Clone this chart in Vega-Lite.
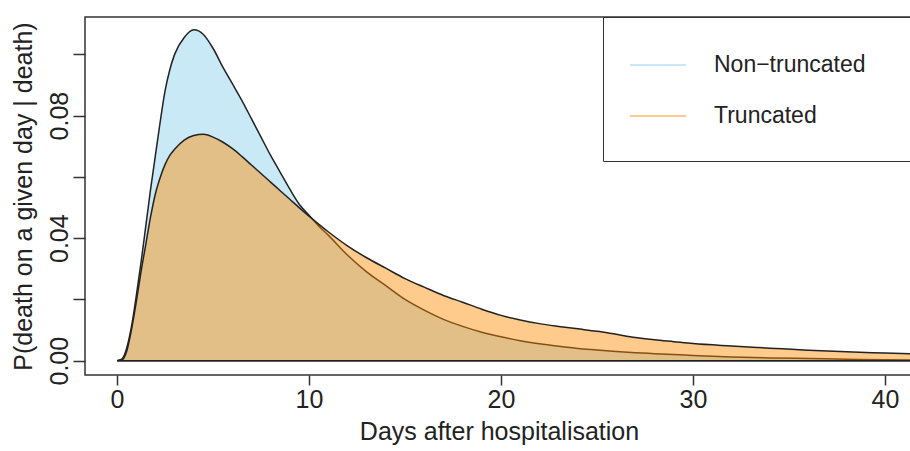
{
  "$schema": "https://vega.github.io/schema/vega-lite/v6.json",
  "width": 828,
  "height": 358,
  "autosize": {"type": "none"},
  "padding": {"left": 85, "top": 17, "right": -3, "bottom": 76},
  "background": "white",
  "config": {
    "view": {"stroke": "#333", "strokeWidth": 1.5},
    "font": "Liberation Sans",
    "axis": {"grid": false, "labelFont": "Liberation Sans", "titleFont": "Liberation Sans", "labelColor": "#222", "titleColor": "#222", "titleFontWeight": "normal", "domain": false, "tickColor": "#333", "tickWidth": 1.5}
  },
  "datasets": {
    "curves": [
      {"day": 0, "p": 0, "series": "Non−truncated"},
      {"day": 0.25, "p": 0.0005, "series": "Non−truncated"},
      {"day": 0.5, "p": 0.004, "series": "Non−truncated"},
      {"day": 0.75, "p": 0.011, "series": "Non−truncated"},
      {"day": 1.0, "p": 0.021, "series": "Non−truncated"},
      {"day": 1.25, "p": 0.032, "series": "Non−truncated"},
      {"day": 1.5, "p": 0.044, "series": "Non−truncated"},
      {"day": 1.75, "p": 0.056, "series": "Non−truncated"},
      {"day": 2.0, "p": 0.067, "series": "Non−truncated"},
      {"day": 2.25, "p": 0.078, "series": "Non−truncated"},
      {"day": 2.5, "p": 0.088, "series": "Non−truncated"},
      {"day": 2.75, "p": 0.095, "series": "Non−truncated"},
      {"day": 3.0, "p": 0.1, "series": "Non−truncated"},
      {"day": 3.5, "p": 0.1055, "series": "Non−truncated"},
      {"day": 4.0, "p": 0.108, "series": "Non−truncated"},
      {"day": 4.5, "p": 0.1065, "series": "Non−truncated"},
      {"day": 5.0, "p": 0.102, "series": "Non−truncated"},
      {"day": 5.5, "p": 0.096, "series": "Non−truncated"},
      {"day": 6.0, "p": 0.0905, "series": "Non−truncated"},
      {"day": 6.5, "p": 0.085, "series": "Non−truncated"},
      {"day": 7.0, "p": 0.079, "series": "Non−truncated"},
      {"day": 7.5, "p": 0.073, "series": "Non−truncated"},
      {"day": 8.0, "p": 0.067, "series": "Non−truncated"},
      {"day": 8.5, "p": 0.0615, "series": "Non−truncated"},
      {"day": 9.0, "p": 0.056, "series": "Non−truncated"},
      {"day": 9.5, "p": 0.051, "series": "Non−truncated"},
      {"day": 10.0, "p": 0.0475, "series": "Non−truncated"},
      {"day": 10.5, "p": 0.044, "series": "Non−truncated"},
      {"day": 11.0, "p": 0.041, "series": "Non−truncated"},
      {"day": 12.0, "p": 0.0345, "series": "Non−truncated"},
      {"day": 13.0, "p": 0.029, "series": "Non−truncated"},
      {"day": 14.0, "p": 0.0245, "series": "Non−truncated"},
      {"day": 15.0, "p": 0.02, "series": "Non−truncated"},
      {"day": 16.0, "p": 0.0165, "series": "Non−truncated"},
      {"day": 17.0, "p": 0.0135, "series": "Non−truncated"},
      {"day": 18.0, "p": 0.0112, "series": "Non−truncated"},
      {"day": 19.0, "p": 0.0093, "series": "Non−truncated"},
      {"day": 20.0, "p": 0.0078, "series": "Non−truncated"},
      {"day": 21.0, "p": 0.0065, "series": "Non−truncated"},
      {"day": 22.0, "p": 0.0055, "series": "Non−truncated"},
      {"day": 23.0, "p": 0.0047, "series": "Non−truncated"},
      {"day": 24.0, "p": 0.004, "series": "Non−truncated"},
      {"day": 25.0, "p": 0.0035, "series": "Non−truncated"},
      {"day": 26.0, "p": 0.003, "series": "Non−truncated"},
      {"day": 27.0, "p": 0.0026, "series": "Non−truncated"},
      {"day": 28.0, "p": 0.0023, "series": "Non−truncated"},
      {"day": 29.0, "p": 0.002, "series": "Non−truncated"},
      {"day": 30.0, "p": 0.0017, "series": "Non−truncated"},
      {"day": 32.0, "p": 0.0012, "series": "Non−truncated"},
      {"day": 34.0, "p": 0.0009, "series": "Non−truncated"},
      {"day": 36.0, "p": 0.0007, "series": "Non−truncated"},
      {"day": 38.0, "p": 0.0005, "series": "Non−truncated"},
      {"day": 40.0, "p": 0.0003, "series": "Non−truncated"},
      {"day": 42.0, "p": 0.0002, "series": "Non−truncated"},
      {"day": 0, "p": 0, "series": "Truncated"},
      {"day": 0.25, "p": 0.0002, "series": "Truncated"},
      {"day": 0.5, "p": 0.003, "series": "Truncated"},
      {"day": 0.75, "p": 0.01, "series": "Truncated"},
      {"day": 1.0, "p": 0.019, "series": "Truncated"},
      {"day": 1.25, "p": 0.029, "series": "Truncated"},
      {"day": 1.5, "p": 0.038, "series": "Truncated"},
      {"day": 1.75, "p": 0.047, "series": "Truncated"},
      {"day": 2.0, "p": 0.0545, "series": "Truncated"},
      {"day": 2.25, "p": 0.0598, "series": "Truncated"},
      {"day": 2.5, "p": 0.064, "series": "Truncated"},
      {"day": 2.75, "p": 0.067, "series": "Truncated"},
      {"day": 3.0, "p": 0.069, "series": "Truncated"},
      {"day": 3.5, "p": 0.072, "series": "Truncated"},
      {"day": 4.0, "p": 0.0735, "series": "Truncated"},
      {"day": 4.5, "p": 0.0739, "series": "Truncated"},
      {"day": 5.0, "p": 0.073, "series": "Truncated"},
      {"day": 5.5, "p": 0.0714, "series": "Truncated"},
      {"day": 6.0, "p": 0.0693, "series": "Truncated"},
      {"day": 6.5, "p": 0.0667, "series": "Truncated"},
      {"day": 7.0, "p": 0.0639, "series": "Truncated"},
      {"day": 7.5, "p": 0.0611, "series": "Truncated"},
      {"day": 8.0, "p": 0.0583, "series": "Truncated"},
      {"day": 8.5, "p": 0.0555, "series": "Truncated"},
      {"day": 9.0, "p": 0.0527, "series": "Truncated"},
      {"day": 9.5, "p": 0.0499, "series": "Truncated"},
      {"day": 10.0, "p": 0.0472, "series": "Truncated"},
      {"day": 10.5, "p": 0.0446, "series": "Truncated"},
      {"day": 11.0, "p": 0.0421, "series": "Truncated"},
      {"day": 12.0, "p": 0.0375, "series": "Truncated"},
      {"day": 13.0, "p": 0.0336, "series": "Truncated"},
      {"day": 14.0, "p": 0.0302, "series": "Truncated"},
      {"day": 15.0, "p": 0.0268, "series": "Truncated"},
      {"day": 16.0, "p": 0.024, "series": "Truncated"},
      {"day": 17.0, "p": 0.0213, "series": "Truncated"},
      {"day": 18.0, "p": 0.0191, "series": "Truncated"},
      {"day": 19.0, "p": 0.0168, "series": "Truncated"},
      {"day": 20.0, "p": 0.0148, "series": "Truncated"},
      {"day": 21.0, "p": 0.0133, "series": "Truncated"},
      {"day": 22.0, "p": 0.0121, "series": "Truncated"},
      {"day": 23.0, "p": 0.0112, "series": "Truncated"},
      {"day": 24.0, "p": 0.0104, "series": "Truncated"},
      {"day": 25.0, "p": 0.0096, "series": "Truncated"},
      {"day": 26.0, "p": 0.0086, "series": "Truncated"},
      {"day": 27.0, "p": 0.0076, "series": "Truncated"},
      {"day": 28.0, "p": 0.0068, "series": "Truncated"},
      {"day": 29.0, "p": 0.0062, "series": "Truncated"},
      {"day": 30.0, "p": 0.0056, "series": "Truncated"},
      {"day": 32.0, "p": 0.0048, "series": "Truncated"},
      {"day": 34.0, "p": 0.0041, "series": "Truncated"},
      {"day": 36.0, "p": 0.0034, "series": "Truncated"},
      {"day": 38.0, "p": 0.0029, "series": "Truncated"},
      {"day": 40.0, "p": 0.0025, "series": "Truncated"},
      {"day": 42.0, "p": 0.0021, "series": "Truncated"}
    ]
  },
  "data": {"name": "curves"},
  "layer": [
    {
      "transform": [{"filter": "datum.series !== 'Truncated'"}],
      "mark": {"type": "area", "interpolate": "monotone", "clip": true, "fill": "#87CEEB", "fillOpacity": 0.45, "stroke": "#222", "strokeWidth": 1.5},
      "encoding": {
        "x": {"field": "day", "type": "quantitative", "scale": {"domain": [-1.667, 41.458], "nice": false, "zero": false},
          "axis": {"values": [0, 10, 20, 30, 40], "tickSize": 10, "labelFontSize": 25, "labelPadding": 2, "title": "Days after hospitalisation", "titleFontSize": 25, "titlePadding": 7, "labelFlush": false, "labelOverlap": false}},
        "y": {"field": "p", "type": "quantitative", "scale": {"domain": [-0.00467, 0.1122], "nice": false, "zero": false},
          "axis": {"values": [0, 0.02, 0.04, 0.06, 0.08, 0.1], "tickSize": 12, "labelFontSize": 25, "labelAngle": 270, "labelAlign": "center", "labelBaseline": "alphabetic", "labelPadding": 6, "labelFlush": false, "labelOverlap": false, "labelExpr": "datum.value < 0.001 ? '0.00' : (abs(datum.value - 0.04) < 0.001 ? '0.04' : (abs(datum.value - 0.08) < 0.001 ? '0.08' : ''))", "title": "P(death on a given day | death)", "titleFontSize": 25, "titlePadding": 11}}
      }
    },
    {
      "transform": [{"filter": "datum.series === 'Truncated'"}],
      "mark": {"type": "area", "interpolate": "monotone", "clip": true, "fill": "#FF8C00", "fillOpacity": 0.45, "stroke": "#222", "strokeWidth": 1.5},
      "encoding": {
        "x": {"field": "day", "type": "quantitative"},
        "y": {"field": "p", "type": "quantitative"}
      }
    },
    {
      "transform": [{"filter": "false"}],
      "mark": {"type": "line", "strokeWidth": 2},
      "encoding": {
        "color": {"field": "series", "type": "nominal",
          "scale": {"domain": ["Non−truncated", "Truncated"], "range": ["#87CEEB", "#FF8C00"]},
          "legend": {"orient": "none", "legendX": 518, "legendY": 0, "title": " ", "titleOrient": "right", "titleAnchor": "start", "titleBaseline": "top", "titlePadding": 50, "titleFontSize": 107, "strokeColor": "#333", "padding": 19, "symbolType": "stroke", "symbolSize": 3136, "symbolStrokeWidth": 2, "symbolOpacity": 0.45, "symbolOffset": 7, "labelOffset": 27, "labelFontSize": 23, "labelFont": "Liberation Sans", "labelColor": "#222", "rowPadding": 10}}
      }
    }
  ]
}
